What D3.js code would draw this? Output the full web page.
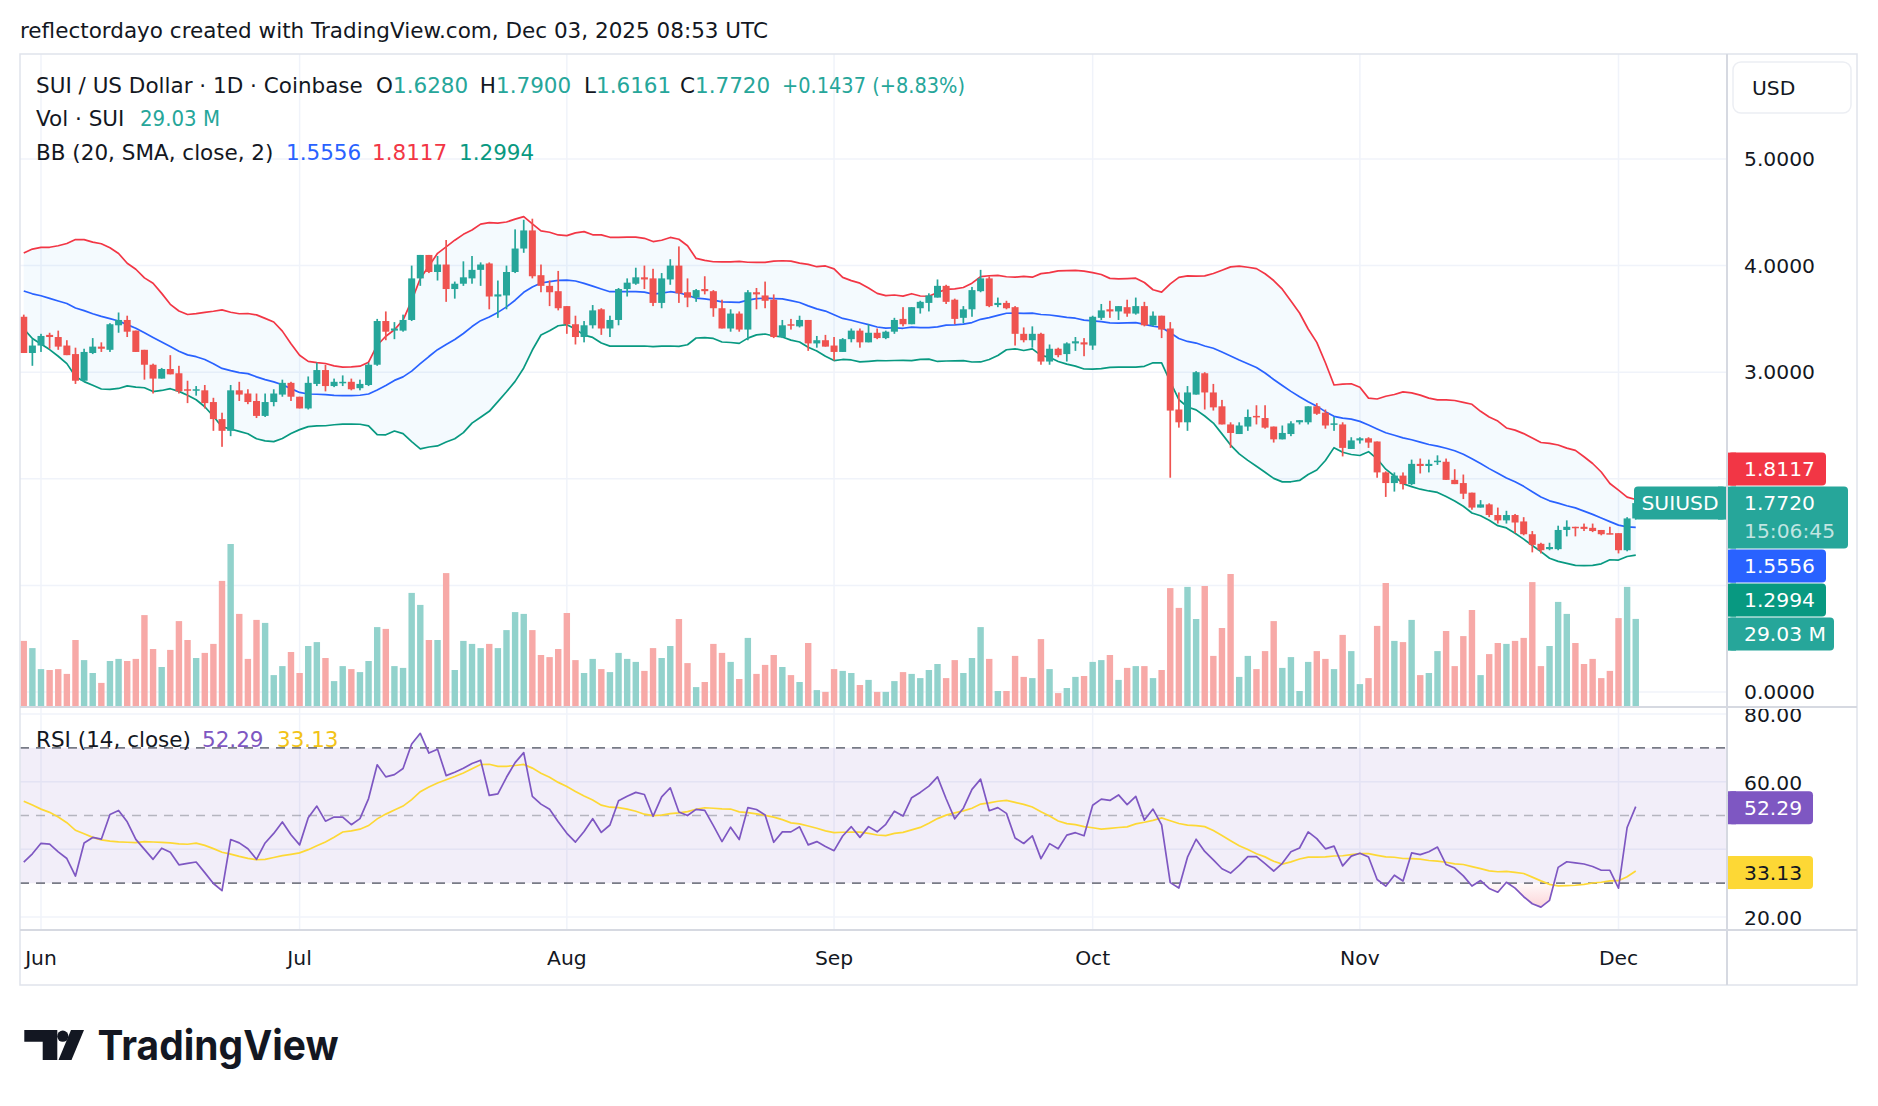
<!DOCTYPE html>
<html>
<head>
<meta charset="utf-8">
<script src="https://cdn.jsdelivr.net/npm/d3@7"></script>
<style>
  html, body { margin: 0; padding: 0; background: #ffffff; }
  svg { display: block; font-family: "DejaVu Sans", Roboto, sans-serif; }
</style>
</head>
<body>
<svg id="chart" width="1878" height="1106"></svg>
<script>
// ---- data (SUI / USD, 1D, Coinbase), first candle is 2025-05-30 ----
const first_day = '2025-05-30'

// closes before the first visible candle, only used to seed BB / RSI
const pre_closes = [3.34, 3.49, 3.37, 3.52, 3.40, 3.32, 3.46, 3.56, 3.44, 3.32,
  3.40, 3.46, 3.36, 3.64, 3.80, 3.90, 3.78, 3.70, 3.84, 3.72,
  3.64, 3.76, 3.68, 3.82, 3.72, 3.86, 3.94, 4.06, 3.86, 3.94,
  3.80, 3.88, 3.84, 3.70, 3.52]

const opens = [3.52, 3.18, 3.25, 3.35, 3.33, 3.25, 3.17, 2.92, 3.18, 3.24,
  3.21, 3.44, 3.49, 3.39, 3.21, 3.07, 2.94, 3.03, 2.99, 2.84,
  2.83, 2.83, 2.72, 2.56, 2.45, 2.83, 2.80, 2.73, 2.59, 2.72,
  2.79, 2.90, 2.77, 2.66, 2.89, 3.02, 2.87, 2.90, 2.91, 2.85,
  2.88, 3.07, 3.48, 3.39, 3.39, 3.49, 3.88, 4.10, 3.94, 4.01,
  3.78, 3.83, 3.88, 3.96, 4.02, 3.71, 3.72, 3.94, 4.16, 4.33,
  3.91, 3.81, 3.76, 3.62, 3.45, 3.33, 3.44, 3.59, 3.41, 3.49,
  3.78, 3.83, 3.89, 3.88, 3.65, 3.87, 4.00, 3.75, 3.70, 3.78,
  3.76, 3.60, 3.41, 3.55, 3.40, 3.75, 3.72, 3.68, 3.33, 3.45,
  3.43, 3.49, 3.27, 3.30, 3.25, 3.19, 3.31, 3.39, 3.28, 3.37,
  3.32, 3.38, 3.50, 3.45, 3.60, 3.65, 3.70, 3.81, 3.68, 3.51,
  3.59, 3.76, 3.88, 3.63, 3.65, 3.61, 3.36, 3.30, 3.36, 3.10,
  3.22, 3.17, 3.27, 3.28, 3.25, 3.51, 3.59, 3.57, 3.61, 3.55,
  3.62, 3.44, 3.53, 3.41, 2.65, 2.53, 2.79, 2.99, 2.81, 2.68,
  2.51, 2.42, 2.49, 2.59, 2.57, 2.49, 2.37, 2.42, 2.53, 2.53,
  2.68, 2.62, 2.51, 2.51, 2.28, 2.36, 2.38, 2.35, 2.06, 1.96,
  2.03, 1.95, 2.14, 2.12, 2.16, 2.16, 1.99, 1.96, 1.87, 1.73,
  1.76, 1.66, 1.61, 1.66, 1.60, 1.48, 1.39, 1.34, 1.34, 1.52,
  1.55, 1.55, 1.54, 1.52, 1.49, 1.49, 1.33, 1.628]

const highs = [3.54, 3.31, 3.36, 3.37, 3.39, 3.30, 3.23, 3.22, 3.32, 3.28,
  3.46, 3.56, 3.53, 3.39, 3.21, 3.08, 3.04, 3.16, 3.06, 2.92,
  2.87, 2.88, 2.76, 2.62, 2.88, 2.91, 2.84, 2.80, 2.80, 2.84,
  2.93, 2.91, 2.77, 2.96, 3.09, 3.07, 2.94, 2.97, 2.94, 2.93,
  3.09, 3.50, 3.57, 3.47, 3.54, 4.00, 4.10, 4.10, 4.09, 4.24,
  3.85, 4.04, 4.09, 4.03, 4.03, 3.86, 4.00, 4.34, 4.43, 4.44,
  4.01, 3.86, 3.95, 3.62, 3.53, 3.48, 3.63, 3.60, 3.53, 3.79,
  3.88, 3.98, 4.00, 3.97, 3.93, 4.06, 4.18, 3.88, 3.78, 3.90,
  3.77, 3.68, 3.59, 3.57, 3.77, 3.79, 3.85, 3.73, 3.49, 3.50,
  3.53, 3.49, 3.34, 3.35, 3.33, 3.32, 3.41, 3.41, 3.45, 3.41,
  3.39, 3.51, 3.61, 3.61, 3.67, 3.74, 3.87, 3.82, 3.69, 3.62,
  3.80, 3.96, 3.90, 3.70, 3.67, 3.62, 3.42, 3.43, 3.37, 3.26,
  3.23, 3.28, 3.33, 3.32, 3.53, 3.64, 3.67, 3.62, 3.68, 3.70,
  3.66, 3.57, 3.53, 3.47, 2.81, 2.87, 3.01, 3.00, 2.89, 2.74,
  2.53, 2.53, 2.65, 2.69, 2.69, 2.49, 2.50, 2.54, 2.55, 2.68,
  2.71, 2.65, 2.58, 2.53, 2.39, 2.39, 2.39, 2.35, 2.07, 2.06,
  2.06, 2.18, 2.19, 2.18, 2.22, 2.19, 2.09, 2.04, 1.87, 1.80,
  1.77, 1.73, 1.70, 1.67, 1.64, 1.51, 1.40, 1.40, 1.56, 1.61,
  1.55, 1.58, 1.58, 1.52, 1.55, 1.49, 1.64, 1.79]

const lows = [3.18, 3.06, 3.19, 3.22, 3.21, 3.16, 2.89, 2.91, 3.17, 3.19,
  3.19, 3.37, 3.33, 3.19, 2.93, 2.80, 2.94, 2.98, 2.80, 2.71,
  2.78, 2.66, 2.45, 2.30, 2.40, 2.73, 2.70, 2.57, 2.58, 2.68,
  2.77, 2.73, 2.66, 2.65, 2.87, 2.82, 2.86, 2.87, 2.83, 2.83,
  2.87, 3.06, 3.30, 3.31, 3.38, 3.48, 3.81, 3.93, 3.86, 3.66,
  3.69, 3.81, 3.83, 3.81, 3.59, 3.51, 3.59, 3.93, 4.12, 3.88,
  3.75, 3.62, 3.58, 3.36, 3.26, 3.28, 3.41, 3.35, 3.33, 3.44,
  3.71, 3.82, 3.78, 3.62, 3.60, 3.82, 3.65, 3.61, 3.66, 3.73,
  3.52, 3.41, 3.38, 3.38, 3.30, 3.59, 3.60, 3.32, 3.32, 3.40,
  3.42, 3.20, 3.23, 3.24, 3.11, 3.19, 3.28, 3.23, 3.28, 3.31,
  3.31, 3.36, 3.43, 3.45, 3.55, 3.57, 3.70, 3.64, 3.45, 3.46,
  3.52, 3.75, 3.61, 3.61, 3.59, 3.25, 3.28, 3.23, 3.07, 3.07,
  3.14, 3.10, 3.20, 3.15, 3.21, 3.49, 3.51, 3.49, 3.52, 3.54,
  3.43, 3.43, 3.32, 2.01, 2.48, 2.45, 2.79, 2.65, 2.64, 2.51,
  2.29, 2.42, 2.45, 2.51, 2.47, 2.34, 2.37, 2.40, 2.51, 2.51,
  2.60, 2.47, 2.45, 2.21, 2.28, 2.33, 2.29, 2.01, 1.83, 1.88,
  1.90, 1.94, 2.05, 2.06, 2.13, 1.99, 1.95, 1.81, 1.71, 1.73,
  1.64, 1.58, 1.58, 1.49, 1.47, 1.31, 1.30, 1.33, 1.33, 1.46,
  1.46, 1.51, 1.50, 1.47, 1.48, 1.30, 1.32, 1.6161]

const closes = [3.18, 3.25, 3.34, 3.33, 3.24, 3.16, 2.92, 3.19, 3.24, 3.22,
  3.45, 3.49, 3.38, 3.19, 3.07, 2.94, 3.03, 2.98, 2.82, 2.83,
  2.84, 2.71, 2.56, 2.45, 2.83, 2.79, 2.72, 2.59, 2.72, 2.80,
  2.90, 2.77, 2.66, 2.90, 3.02, 2.87, 2.91, 2.91, 2.84, 2.89,
  3.07, 3.48, 3.38, 3.41, 3.49, 3.88, 4.10, 3.94, 4.01, 3.78,
  3.83, 3.89, 3.96, 4.01, 3.71, 3.73, 3.94, 4.16, 4.33, 3.90,
  3.81, 3.75, 3.60, 3.45, 3.33, 3.44, 3.58, 3.41, 3.49, 3.78,
  3.84, 3.89, 3.87, 3.65, 3.88, 4.00, 3.74, 3.70, 3.77, 3.76,
  3.60, 3.41, 3.55, 3.40, 3.75, 3.73, 3.67, 3.33, 3.44, 3.44,
  3.49, 3.27, 3.30, 3.24, 3.19, 3.31, 3.39, 3.28, 3.37, 3.32,
  3.38, 3.49, 3.45, 3.61, 3.66, 3.72, 3.81, 3.66, 3.50, 3.59,
  3.77, 3.88, 3.62, 3.65, 3.60, 3.36, 3.30, 3.36, 3.10, 3.22,
  3.16, 3.27, 3.29, 3.26, 3.52, 3.58, 3.57, 3.62, 3.55, 3.62,
  3.44, 3.53, 3.40, 2.64, 2.53, 2.81, 3.00, 2.81, 2.67, 2.51,
  2.43, 2.50, 2.58, 2.58, 2.48, 2.37, 2.43, 2.52, 2.55, 2.68,
  2.61, 2.50, 2.52, 2.29, 2.36, 2.38, 2.34, 2.06, 1.96, 2.03,
  1.95, 2.14, 2.12, 2.14, 2.17, 1.99, 1.95, 1.86, 1.73, 1.76,
  1.66, 1.61, 1.66, 1.59, 1.48, 1.38, 1.33, 1.36, 1.52, 1.55,
  1.54, 1.53, 1.51, 1.48, 1.48, 1.33, 1.6283, 1.772]

// volume, millions of SUI
const volumes = [21.7, 19.3, 12.3, 12.0, 12.3, 10.7, 22.0, 15.3, 11.0, 7.7,
  15.0, 15.7, 15.0, 15.7, 30.3, 19.0, 13.0, 18.7, 28.3, 22.0,
  16.0, 17.7, 20.7, 41.7, 54.0, 30.7, 15.7, 28.7, 27.7, 10.3,
  13.3, 18.0, 11.0, 20.0, 21.3, 16.0, 8.3, 13.3, 12.3, 11.3,
  15.0, 26.3, 25.7, 13.3, 12.7, 37.7, 33.7, 22.0, 22.0, 44.3,
  12.0, 21.7, 20.7, 19.3, 20.7, 19.3, 25.3, 31.3, 30.7, 25.3,
  17.0, 16.3, 19.0, 31.0, 15.3, 11.0, 15.7, 12.3, 11.3, 17.7,
  15.7, 14.7, 11.7, 19.3, 16.0, 20.0, 29.0, 14.3, 6.3, 8.0,
  20.7, 17.7, 14.7, 9.0, 22.7, 10.7, 13.7, 17.0, 13.0, 10.3,
  8.0, 21.0, 5.3, 4.7, 12.3, 11.7, 11.0, 7.0, 8.7, 4.7,
  4.7, 8.3, 11.3, 10.7, 9.3, 12.0, 14.0, 9.3, 15.3, 11.0,
  16.0, 26.3, 15.7, 5.0, 5.0, 16.7, 9.7, 9.3, 22.3, 12.3,
  4.3, 6.0, 9.7, 10.0, 14.7, 15.3, 17.0, 8.7, 12.7, 13.3,
  13.3, 9.3, 12.0, 39.3, 32.7, 39.7, 29.0, 40.0, 16.7, 26.0,
  44.0, 9.7, 16.7, 12.3, 18.3, 28.3, 12.7, 16.3, 5.0, 14.7,
  18.3, 15.7, 12.3, 23.7, 18.3, 7.3, 9.3, 26.7, 41.0, 21.7,
  21.3, 28.7, 10.3, 11.0, 18.3, 25.0, 13.3, 23.3, 32.0, 10.3,
  17.3, 21.0, 20.7, 21.7, 22.7, 41.3, 13.3, 20.0, 34.7, 30.7,
  21.0, 14.0, 15.7, 9.3, 11.7, 29.3, 39.7, 29.03]

// last values shown in the legends / scale tags
const bb_last = { basis: 1.5556, upper: 1.8117, lower: 1.2994 }
const rsi_last = { rsi: 52.29, ma: 33.13 }
const vol_last = 29.03
const countdown = '15:06:45'
const month_ticks = ['2025-06-01', '2025-07-01', '2025-08-01', '2025-09-01', '2025-10-01', '2025-11-01', '2025-12-01']
const price_ticks = [0, 1, 2, 3, 4, 5]
const rsi_ticks = [20, 40, 60, 80]
const rsi_levels = [70, 50, 30]

// ---- layout ----
const frame = { left: 20, top: 54, axis_x: 1727, right: 1857, price_bottom: 707, rsi_top: 708, rsi_bottom: 930, bottom: 985 }
const colors = {
  up: '#26a69a', down: '#ef5350', up_vol: '#92d2cc', down_vol: '#f7a9a7',
  bb_basis: '#2962FF', bb_upper: '#F23645', bb_lower: '#089981',
  rsi: '#7E57C2', rsi_ma: '#FDD835', text: '#131722', grid: '#f0f3fa', border: '#e0e3eb'
}
const fs = { header: 21.5, legend: 21.5, axis: 20.3 }

const dates = opens.map((d, i) => d3.utcDay.offset(new Date(first_day), i))

const x = d3.scaleUtc()
  .domain([new Date('2025-06-01'), new Date('2025-12-01')])
  .range([41, 1618.5])
const y_price = d3.scaleLinear().domain([0, 5]).range([692, 159])
const y_vol = d3.scaleLinear().domain([0, 54]).range([706, 544])
const y_rsi = d3.scaleLinear().domain([20, 80]).range([917, 714])

// ---- indicators ----
const all_closes = pre_closes.concat(closes)
const offset = pre_closes.length

function calc_bb(src, len, mult) {
  let out = []
  for (let i = 0; i < src.length; i++) {
    if (i < len - 1) { out.push(null); continue }
    let win = src.slice(i - len + 1, i + 1)
    let mean = d3.mean(win)
    let dev = Math.sqrt(d3.mean(win, v => (v - mean) * (v - mean)))
    out.push({ basis: mean, upper: mean + mult * dev, lower: mean - mult * dev })
  }
  return out
}

function calc_rsi(src, len) {
  let out = src.map(() => null)
  let avg_g = 0, avg_l = 0
  for (let i = 1; i < src.length; i++) {
    let ch = src[i] - src[i - 1]
    let g = Math.max(ch, 0), l = Math.max(-ch, 0)
    if (i <= len) {
      avg_g += g / len
      avg_l += l / len
    } else {
      avg_g = (avg_g * (len - 1) + g) / len
      avg_l = (avg_l * (len - 1) + l) / len
    }
    if (i >= len) out[i] = avg_l == 0 ? 100 : 100 - 100 / (1 + avg_g / avg_l)
  }
  return out
}

function calc_sma(src, len) {
  return src.map((v, i) => {
    let win = src.slice(Math.max(0, i - len + 1), i + 1)
    if (win.length < len || win.some(w => w == null)) return null
    return d3.mean(win)
  })
}

const bb_all = calc_bb(all_closes, 20, 2)
const rsi_all = calc_rsi(all_closes, 14)
const rsi_ma_all = calc_sma(rsi_all, 14)

const bars = dates.map((d, i) => ({
  date: d, o: opens[i], h: highs[i], l: lows[i], c: closes[i], v: volumes[i],
  bb: bb_all[i + offset], rsi: rsi_all[i + offset], rsi_ma: rsi_ma_all[i + offset]
}))

// ---- svg ----
const svg = d3.select('#chart')
const defs = svg.append('defs')

function add_clip(id, cx, cy, cw, ch) {
  defs.append('clipPath').attr('id', id).append('rect')
    .attr('x', cx).attr('y', cy).attr('width', cw).attr('height', ch)
}
add_clip('clip-price', frame.left, frame.top, frame.axis_x - frame.left, frame.price_bottom - frame.top)
add_clip('clip-rsi', frame.left, frame.rsi_top, frame.axis_x - frame.left, frame.rsi_bottom - frame.rsi_top)
add_clip('clip-oversold', frame.left, y_rsi(30), frame.axis_x - frame.left, frame.rsi_bottom - y_rsi(30))
add_clip('clip-overbought', frame.left, frame.rsi_top, frame.axis_x - frame.left, y_rsi(70) - frame.rsi_top)
add_clip('clip-rsi-axis', frame.axis_x, frame.rsi_top + 1, frame.right - frame.axis_x, frame.rsi_bottom - frame.rsi_top - 1)

function add_grad(id, col, y1, y2, op) {
  let g = defs.append('linearGradient').attr('id', id)
    .attr('gradientUnits', 'userSpaceOnUse').attr('x1', 0).attr('x2', 0)
    .attr('y1', y1).attr('y2', y2)
  g.append('stop').attr('offset', 0).attr('stop-color', col).attr('stop-opacity', 0.03)
  g.append('stop').attr('offset', 1).attr('stop-color', col).attr('stop-opacity', op)
}
add_grad('grad-oversold', '#F23645', y_rsi(30), y_rsi(20), 0.28)
add_grad('grad-overbought', '#089981', y_rsi(70), y_rsi(80), 0.25)

svg.append('rect').attr('width', 1878).attr('height', 1106).attr('fill', '#ffffff')

// header
svg.append('text')
  .attr('x', 20).attr('y', 30)
  .attr('dominant-baseline', 'central')
  .attr('font-size', fs.header).attr('fill', colors.text)
  .attr('textLength', 748).attr('lengthAdjust', 'spacingAndGlyphs')
  .text('reflectordayo created with TradingView.com, Dec 03, 2025 08:53 UTC')

// ---- grid ----
const grid = svg.append('g').attr('stroke', colors.grid).attr('stroke-width', 1.5)
month_ticks.forEach(m => {
  let gx = x(new Date(m))
  grid.append('line').attr('x1', gx).attr('x2', gx).attr('y1', frame.top).attr('y2', frame.rsi_bottom)
})
price_ticks.forEach(p => {
  grid.append('line').attr('x1', frame.left).attr('x2', frame.axis_x)
    .attr('y1', y_price(p)).attr('y2', y_price(p))
})
rsi_ticks.forEach(r => {
  grid.append('line').attr('x1', frame.left).attr('x2', frame.axis_x)
    .attr('y1', y_rsi(r)).attr('y2', y_rsi(r))
})

// ---- price pane ----
const price_g = svg.append('g').attr('clip-path', 'url(#clip-price)')
const bb_bars = bars.filter(b => b.bb)

price_g.append('path')
  .datum(bb_bars)
  .attr('fill', '#2196F3').attr('fill-opacity', 0.05)
  .attr('d', d3.area().x(b => x(b.date)).y0(b => y_price(b.bb.lower)).y1(b => y_price(b.bb.upper)))

// volume
price_g.append('g').selectAll('rect')
  .data(bars).join('rect')
  .attr('x', b => x(b.date) - 3.2)
  .attr('width', 6.4)
  .attr('y', b => y_vol(b.v))
  .attr('height', b => y_vol(0) - y_vol(b.v))
  .attr('fill', b => b.c >= b.o ? colors.up_vol : colors.down_vol)

const bb_keys = [['upper', colors.bb_upper], ['basis', colors.bb_basis], ['lower', colors.bb_lower]]
bb_keys.forEach(([key, col]) => {
  price_g.append('path')
    .datum(bb_bars)
    .attr('fill', 'none').attr('stroke', col).attr('stroke-width', 1.7)
    .attr('stroke-linejoin', 'round')
    .attr('d', d3.line().x(b => x(b.date)).y(b => y_price(b.bb[key])))
})

// candles
const candle = price_g.append('g').selectAll('g')
  .data(bars).join('g')
  .attr('fill', b => b.c >= b.o ? colors.up : colors.down)
candle.append('rect')
  .attr('x', b => x(b.date) - 0.85).attr('width', 1.7)
  .attr('y', b => y_price(b.h))
  .attr('height', b => y_price(b.l) - y_price(b.h))
candle.append('rect')
  .attr('x', b => x(b.date) - 3.5).attr('width', 7)
  .attr('y', b => y_price(Math.max(b.o, b.c)))
  .attr('height', b => Math.max(1.5, Math.abs(y_price(b.o) - y_price(b.c))))

// ---- rsi pane ----
const rsi_g = svg.append('g').attr('clip-path', 'url(#clip-rsi)')
rsi_g.append('rect')
  .attr('x', frame.left).attr('width', frame.axis_x - frame.left)
  .attr('y', y_rsi(70)).attr('height', y_rsi(30) - y_rsi(70))
  .attr('fill', '#7E57C2').attr('fill-opacity', 0.1)

rsi_levels.forEach(lv => {
  rsi_g.append('line')
    .attr('x1', frame.left).attr('x2', frame.axis_x)
    .attr('y1', y_rsi(lv)).attr('y2', y_rsi(lv))
    .attr('stroke', '#787B86').attr('stroke-width', 1.7)
    .attr('stroke-opacity', lv == 50 ? 0.5 : 1)
    .attr('stroke-dasharray', '9,7')
})

const rsi_bars = bars.filter(b => b.rsi != null)
rsi_g.append('path').datum(rsi_bars)
  .attr('clip-path', 'url(#clip-oversold)')
  .attr('fill', 'url(#grad-oversold)')
  .attr('d', d3.area().x(b => x(b.date)).y0(y_rsi(30)).y1(b => y_rsi(b.rsi)))
rsi_g.append('path').datum(rsi_bars)
  .attr('clip-path', 'url(#clip-overbought)')
  .attr('fill', 'url(#grad-overbought)')
  .attr('d', d3.area().x(b => x(b.date)).y0(y_rsi(70)).y1(b => y_rsi(b.rsi)))

rsi_g.append('path').datum(bars.filter(b => b.rsi_ma != null))
  .attr('fill', 'none').attr('stroke', colors.rsi_ma).attr('stroke-width', 1.7)
  .attr('d', d3.line().x(b => x(b.date)).y(b => y_rsi(b.rsi_ma)))
rsi_g.append('path').datum(rsi_bars)
  .attr('fill', 'none').attr('stroke', colors.rsi).attr('stroke-width', 1.7)
  .attr('stroke-linejoin', 'round')
  .attr('d', d3.line().x(b => x(b.date)).y(b => y_rsi(b.rsi)))

// ---- frame ----
const border = svg.append('g').attr('stroke', colors.border).attr('fill', 'none')
border.append('rect')
  .attr('x', frame.left).attr('y', frame.top)
  .attr('width', frame.right - frame.left).attr('height', frame.bottom - frame.top)
  .attr('stroke-width', 1.5)
border.append('line').attr('x1', frame.axis_x).attr('x2', frame.axis_x)
  .attr('y1', frame.top).attr('y2', frame.bottom).attr('stroke', '#d6d9e1').attr('stroke-width', 2)
;[frame.price_bottom, frame.rsi_bottom].forEach(sy => {
  border.append('line').attr('x1', frame.left).attr('x2', frame.right)
    .attr('y1', sy).attr('y2', sy).attr('stroke', '#d6d9e1').attr('stroke-width', 2.2)
})

// ---- scale tags ----
const n = bars.length
const last = bars[n - 1]
const tag_h = 33
let tags = [
  { y: y_price(closes[n - 1]), lines: [closes[n - 1].toFixed(4), countdown], fill: colors.up, w: 120, anchor: true },
  { y: y_price(bb_last.upper), lines: [bb_last.upper.toFixed(4)], fill: colors.bb_upper, w: 98 },
  { y: y_price(bb_last.basis), lines: [bb_last.basis.toFixed(4)], fill: colors.bb_basis, w: 98 },
  { y: y_price(bb_last.lower), lines: [bb_last.lower.toFixed(4)], fill: colors.bb_lower, w: 98 },
  { y: y_vol(vol_last), lines: [vol_last.toFixed(2) + ' M'], fill: colors.up, w: 106 }
]
// push tags apart the way the price scale does
let anchor = tags[0]
anchor.top = anchor.y - tag_h / 2
anchor.bottom = anchor.top + tag_h * anchor.lines.length - 4
let above = tags.filter(t => !t.anchor && t.y <= anchor.y).sort((a, b) => b.y - a.y)
let below = tags.filter(t => !t.anchor && t.y > anchor.y).sort((a, b) => a.y - b.y)
let edge = anchor.top
above.forEach(t => {
  t.bottom = Math.min(t.y + tag_h / 2, edge - 1)
  t.top = t.bottom - tag_h
  edge = t.top
})
edge = anchor.bottom
below.forEach(t => {
  t.top = Math.max(t.y - tag_h / 2, edge + 1)
  t.bottom = t.top + tag_h
  edge = t.bottom
})
tags.push({ top: y_rsi(rsi_last.rsi) - tag_h / 2, bottom: y_rsi(rsi_last.rsi) + tag_h / 2, lines: [rsi_last.rsi.toFixed(2)], fill: colors.rsi, w: 85 })
tags.push({ top: y_rsi(rsi_last.ma) - tag_h / 2, bottom: y_rsi(rsi_last.ma) + tag_h / 2, lines: [rsi_last.ma.toFixed(2)], fill: colors.rsi_ma, w: 85, ink: colors.text })

// axis labels (skip those hidden behind a tag)
const axis_g = svg.append('g').attr('font-size', fs.axis).attr('fill', colors.text)
function hidden(yy) {
  return tags.some(t => yy > t.top - 8 && yy < t.bottom + 8)
}
price_ticks.filter(p => !hidden(y_price(p))).forEach(p => {
  axis_g.append('text').attr('x', 1744).attr('y', y_price(p))
    .attr('dominant-baseline', 'central').text(d3.format('.4f')(p))
})
const rsi_axis = axis_g.append('g').attr('clip-path', 'url(#clip-rsi-axis)')
rsi_ticks.filter(r => !hidden(y_rsi(r))).forEach(r => {
  rsi_axis.append('text').attr('x', 1744).attr('y', y_rsi(r) + 1)
    .attr('dominant-baseline', 'central').text(d3.format('.2f')(r))
})

month_ticks.forEach(m => {
  axis_g.append('text').attr('x', x(new Date(m))).attr('y', 958)
    .attr('text-anchor', 'middle').attr('dominant-baseline', 'central')
    .text(d3.utcFormat('%b')(new Date(m)))
})

const tag_g = svg.append('g')
tags.forEach(t => {
  let h = t.bottom - t.top
  let g = tag_g.append('g')
  g.append('rect').attr('x', frame.axis_x + 1).attr('y', t.top).attr('width', t.w).attr('height', h)
    .attr('rx', 4).attr('fill', t.fill)
  g.append('rect').attr('x', frame.axis_x + 1).attr('y', t.top).attr('width', 8).attr('height', h)
    .attr('fill', t.fill)
  t.lines.forEach((line, k) => {
    g.append('text').attr('x', 1744).attr('y', t.top + tag_h / 2 + k * 28)
      .attr('dominant-baseline', 'central').attr('font-size', fs.axis)
      .attr('fill', t.ink || '#ffffff').attr('fill-opacity', k == 0 ? 1 : 0.72)
      .text(line)
  })
})

// symbol tag left of the scale
let sym = tag_g.append('g')
sym.append('rect').attr('x', 1634).attr('y', anchor.top).attr('width', 92).attr('height', tag_h)
  .attr('rx', 4).attr('fill', colors.up)
sym.append('rect').attr('x', 1718).attr('y', anchor.top).attr('width', 8).attr('height', tag_h)
  .attr('fill', colors.up)
sym.append('text').attr('x', 1680).attr('y', anchor.top + tag_h / 2)
  .attr('text-anchor', 'middle').attr('dominant-baseline', 'central')
  .attr('font-size', fs.axis).attr('fill', '#fff').text('SUIUSD')

// USD button
svg.append('rect').attr('x', 1733).attr('y', 62).attr('width', 118).attr('height', 51)
  .attr('rx', 8).attr('fill', '#fff').attr('stroke', '#eceef3').attr('stroke-width', 1.5)
svg.append('text').attr('x', 1752).attr('y', 88).attr('dominant-baseline', 'central')
  .attr('font-size', fs.axis).attr('fill', colors.text).text('USD')

// ---- legends ----
const leg = svg.append('g').attr('font-size', fs.legend).attr('dominant-baseline', 'central')
function leg_text(tx, ty, str, col, anchor_end, len) {
  let t = leg.append('text').attr('x', tx).attr('y', ty).attr('fill', col)
    .attr('text-anchor', anchor_end ? 'end' : 'start').text(str)
  if (len) t.attr('textLength', len).attr('lengthAdjust', 'spacingAndGlyphs')
}
let chg = closes[n - 1] - closes[n - 2]
let pct = chg / closes[n - 2] * 100
leg_text(36, 85, 'SUI / US Dollar · 1D · Coinbase', colors.text)
;[['O', last.o, 393], ['H', last.h, 496], ['L', last.l, 596], ['C', last.c, 695]].forEach(([k, v, vx]) => {
  leg_text(vx, 85, k, colors.text, true)
  leg_text(vx, 85, v.toFixed(4), colors.up)
})
leg_text(782, 85, '+' + chg.toFixed(4) + ' (+' + pct.toFixed(2) + '%)', colors.up, false, 183)

leg_text(36, 118.5, 'Vol · SUI', colors.text)
leg_text(140, 118.5, vol_last.toFixed(2) + ' M', colors.up, false, 80)

leg_text(36, 152, 'BB (20, SMA, close, 2)', colors.text)
leg_text(286, 152, bb_last.basis.toFixed(4), colors.bb_basis)
leg_text(372, 152, bb_last.upper.toFixed(4), colors.bb_upper)
leg_text(459, 152, bb_last.lower.toFixed(4), colors.bb_lower)

leg_text(36, 739, 'RSI (14, close)', colors.text)
leg_text(202, 739, rsi_last.rsi.toFixed(2), colors.rsi)
leg_text(277, 739, rsi_last.ma.toFixed(2), '#f2c318')

// ---- logo ----
const logo = svg.append('g').attr('fill', colors.text)
logo.append('path').attr('d', 'M24.3,1030 H57.3 V1060 H42.7 V1041.7 H24.3 Z')
logo.append('circle').attr('cx', 62.8).attr('cy', 1036.2).attr('r', 5.6)
logo.append('path').attr('d', 'M71,1030 H84 L71.5,1060 H58.5 Z')
logo.append('text').attr('x', 97.5).attr('y', 1060)
  .attr('font-family', 'Inter, Roboto, sans-serif')
  .attr('font-size', 41).attr('font-weight', 700)
  .attr('textLength', 241).attr('lengthAdjust', 'spacingAndGlyphs')
  .text('TradingView')
</script>
</body>
</html>
